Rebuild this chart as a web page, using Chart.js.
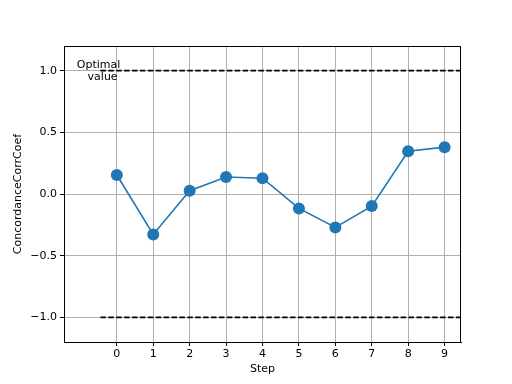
<!DOCTYPE html>
<html><head><meta charset="utf-8">
<script src="https://cdn.jsdelivr.net/npm/chart.js@4/dist/chart.umd.min.js"></script>
<style>html,body{margin:0;padding:0;background:#fff}#c{display:block}</style>
</head><body>
<canvas id="c" width="512" height="384"></canvas>
<script>
const steps = [0,1,2,3,4,5,6,7,8,9];
const ccc = [0.154,-0.328,0.027,0.138,0.128,-0.117,-0.271,-0.098,0.347,0.38];
const optimalUpper = 1.0;
const optimalLower = -1.0;
const refLineX = [-0.45, 9.45];
const xTicks = [0,1,2,3,4,5,6,7,8,9];
const yTicks = [-1.0,-0.5,0.0,0.5,1.0];
const FONT = "'DejaVu Sans', sans-serif";

const fmtY = v => (v < 0 ? '\u2212' : '') + Math.abs(v).toFixed(1);

const frame = {
  id:'frame',
  afterDraw(chart){
    const {ctx, chartArea:a, scales} = chart;
    ctx.save();
    ctx.strokeStyle = '#000'; ctx.lineWidth = 1;
    ctx.strokeRect(Math.round(a.left)+0.5, Math.round(a.top)+0.5, Math.round(a.right-a.left)-1, Math.round(a.bottom-a.top));
    ctx.fillStyle = '#000';
    ctx.font = "11px " + FONT;
    ctx.textAlign = 'center'; ctx.textBaseline = 'middle';
    const x = scales.x.getPixelForValue(-0.5);
    const y = scales.y.getPixelForValue(optimalUpper);
    ctx.fillText('Optimal', x, y - 6);
    ctx.fillText('value', x + 4, y + 6);
    ctx.restore();
  }
};

new Chart(document.getElementById('c'), {
  type:'line',
  data:{
    datasets:[
      {data: steps.map((s,i)=>({x:s,y:ccc[i]})), borderColor:'#1f77b4', backgroundColor:'#1f77b4',
       borderWidth:1.6, pointRadius:6, pointHoverRadius:6, pointBorderWidth:0, tension:0, order:1},
      {data: refLineX.map(x=>({x, y:optimalUpper})), borderColor:'#000', borderWidth:1.6, borderDash:[5.5,2.4],
       pointRadius:0, order:2},
      {data: refLineX.map(x=>({x, y:optimalLower})), borderColor:'#000', borderWidth:1.6, borderDash:[5.5,2.4],
       pointRadius:0, order:2}
    ]
  },
  options:{
    responsive:false, animation:false, devicePixelRatio:1,
    layout:{padding:{left:0, right:51, top:46, bottom:0}},
    plugins:{legend:{display:false}, tooltip:{enabled:false}},
    scales:{
      x:{type:'linear', min:-1.45, max:9.45,
        afterBuildTicks: s => { s.ticks = xTicks.map(v=>({value:v})); },
        afterFit: s => { s.height = 42; },
        grid:{color:'#b0b0b0', lineWidth:1, tickLength:4, tickColor:'#000', drawTicks:true},
        border:{display:true, color:'#000'},
        ticks:{color:'#000', font:{family:FONT, size:11}, padding:2, maxRotation:0, callback: v => String(v)},
        title:{display:true, text:'Step', color:'#000', font:{family:FONT, size:11}, padding:{top:1,bottom:8}}
      },
      y:{min:-1.2, max:1.2,
        afterBuildTicks: s => { s.ticks = yTicks.map(v=>({value:v})); },
        afterFit: s => { s.width = 64; },
        grid:{color:'#b0b0b0', lineWidth:1, tickLength:4, tickColor:'#000'},
        border:{display:true, color:'#000'},
        ticks:{color:'#000', font:{family:FONT, size:11}, padding:3, callback: v => fmtY(v)},
        title:{display:true, text:'ConcordanceCorrCoef', color:'#000', font:{family:FONT, size:11}, padding:{top:12,bottom:4}}
      }
    }
  },
  plugins:[frame]
});
</script>
</body></html>
